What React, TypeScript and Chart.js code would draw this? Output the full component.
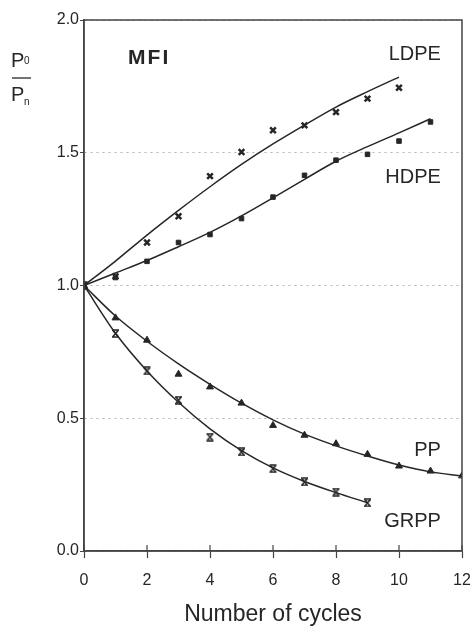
import React, { useEffect, useRef } from "react";
import { Chart, registerables } from "chart.js";

Chart.register(...registerables);

// ---- data ----
const ldpeCycles = [0, 1, 2, 3, 4, 5, 6, 7, 8, 9, 10];
const ldpeValues = [1.0, 1.035, 1.162, 1.261, 1.412, 1.503, 1.585, 1.603, 1.653, 1.704, 1.745];
const ldpeFit = [1.0, 1.092, 1.19, 1.283, 1.372, 1.456, 1.533, 1.604, 1.672, 1.73, 1.785];

const hdpeCycles = [0, 1, 2, 3, 4, 5, 6, 7, 8, 9, 10, 11];
const hdpeValues = [1.0, 1.03, 1.091, 1.162, 1.192, 1.252, 1.333, 1.415, 1.472, 1.494, 1.544, 1.616];
const hdpeFit = [1.0, 1.047, 1.094, 1.146, 1.2, 1.262, 1.33, 1.4, 1.468, 1.523, 1.575, 1.628];

const ppCycles = [0, 1, 2, 3, 4, 5, 6, 7, 8, 9, 10, 11, 12];
const ppValues = [1.0, 0.878, 0.794, 0.666, 0.618, 0.557, 0.473, 0.436, 0.404, 0.364, 0.32, 0.301, 0.283];
const ppFit = [1.0, 0.885, 0.79, 0.705, 0.628, 0.557, 0.494, 0.44, 0.396, 0.358, 0.324, 0.298, 0.283];

const grppCycles = [0, 1, 2, 3, 4, 5, 6, 7, 8, 9];
const grppValues = [1.0, 0.819, 0.678, 0.568, 0.429, 0.373, 0.31, 0.26, 0.222, 0.181];
const grppFit = [1.0, 0.82, 0.678, 0.56, 0.46, 0.378, 0.313, 0.262, 0.22, 0.182];

const xTicks = [0, 2, 4, 6, 8, 10, 12];
const yTicks = [0.0, 0.5, 1.0, 1.5, 2.0];

// labels placed in data coordinates
const seriesLabels = [
  { text: "LDPE", x: 11.33, y: 1.87 },
  { text: "HDPE", x: 11.33, y: 1.405 },
  { text: "PP", x: 11.33, y: 0.379 },
  { text: "GRPP", x: 11.33, y: 0.11 },
];
const panelLabel = { text: "MFI", x: 1.4, y: 1.855 };

const xTitle = "Number of cycles";

const INK = "#262626";
const FONT = "'Liberation Sans', Arial, sans-serif";

function pts(xs: number[], ys: number[]) {
  return xs.map((x, i) => ({ x, y: ys[i] }));
}

function hourglass(): HTMLCanvasElement {
  const c = document.createElement("canvas");
  c.width = 9;
  c.height = 9;
  const g = c.getContext("2d")!;
  g.strokeStyle = INK;
  g.lineWidth = 1.6;
  g.beginPath();
  g.moveTo(1, 1); g.lineTo(8, 1);
  g.moveTo(1, 8); g.lineTo(8, 8);
  g.moveTo(1.5, 1); g.lineTo(7.5, 8);
  g.moveTo(7.5, 1); g.lineTo(1.5, 8);
  g.stroke();
  return c;
}

const decorPlugin = {
  id: "decor",
  afterDraw(chart: any) {
    const { ctx, chartArea, scales } = chart;
    const xs = scales.x;
    const ys = scales.y;
    ctx.save();
    // frame
    ctx.strokeStyle = "#444";
    ctx.lineWidth = 1.5;
    ctx.beginPath();
    ctx.moveTo(chartArea.left, chartArea.bottom);
    ctx.lineTo(chartArea.left, chartArea.top);
    ctx.lineTo(chartArea.right, chartArea.top);
    ctx.lineTo(chartArea.right, chartArea.bottom);
    ctx.lineTo(chartArea.left, chartArea.bottom);
    ctx.stroke();
    // inner x tick marks
    ctx.lineWidth = 1.2;
    ctx.beginPath();
    for (const t of xTicks) {
      const px = xs.getPixelForValue(t);
      ctx.moveTo(px, chartArea.bottom);
      ctx.lineTo(px, chartArea.bottom - 6);
    }
    ctx.stroke();
    // series labels
    ctx.fillStyle = INK;
    ctx.textBaseline = "middle";
    ctx.font = `20px ${FONT}`;
    ctx.textAlign = "right";
    for (const l of seriesLabels) {
      ctx.fillText(l.text, xs.getPixelForValue(l.x), ys.getPixelForValue(l.y));
    }
    ctx.textAlign = "left";
    ctx.font = `bold 21px ${FONT}`;
    (ctx as any).letterSpacing = "2px";
    ctx.fillText(panelLabel.text, xs.getPixelForValue(panelLabel.x), ys.getPixelForValue(panelLabel.y));
    (ctx as any).letterSpacing = "0px";
    // y axis title P0 / Pn
    ctx.textBaseline = "alphabetic";
    ctx.font = `20px ${FONT}`;
    ctx.fillText("P", 11, 67);
    ctx.font = `10px ${FONT}`;
    ctx.fillText("0", 24, 64);
    ctx.lineWidth = 1.5;
    ctx.beginPath();
    ctx.moveTo(12, 78);
    ctx.lineTo(31, 78);
    ctx.stroke();
    ctx.font = `20px ${FONT}`;
    ctx.fillText("P", 11, 101);
    ctx.font = `10px ${FONT}`;
    ctx.fillText("n", 24, 105);
    ctx.restore();
  },
};

export default function App() {
  const ref = useRef<HTMLCanvasElement>(null);
  useEffect(() => {
    if (!ref.current) return;
    const hg = hourglass();
    const lineDs = (data: number[], xsArr: number[]) => ({
      type: "line" as const,
      data: pts(xsArr, data),
      borderColor: INK,
      borderWidth: 1.5,
      pointRadius: 0,
      cubicInterpolationMode: "monotone" as const,
      fill: false,
      order: 2,
    });
    const chart = new Chart(ref.current, {
      type: "scatter",
      data: {
        datasets: [
          lineDs(ldpeFit, ldpeCycles),
          lineDs(hdpeFit, hdpeCycles),
          lineDs(ppFit, ppCycles),
          lineDs(grppFit, grppCycles),
          {
            label: "LDPE",
            data: pts(ldpeCycles, ldpeValues),
            pointStyle: "crossRot",
            pointRadius: 4,
            borderWidth: 2.5,
            borderColor: INK,
            backgroundColor: INK,
            order: 1,
          },
          {
            label: "HDPE",
            data: pts(hdpeCycles, hdpeValues),
            pointStyle: "rect",
            pointRadius: 3.2,
            borderWidth: 1,
            borderColor: INK,
            backgroundColor: INK,
            order: 1,
          },
          {
            label: "PP",
            data: pts(ppCycles, ppValues),
            pointStyle: "triangle",
            pointRadius: 4,
            borderWidth: 1,
            borderColor: INK,
            backgroundColor: INK,
            order: 1,
          },
          {
            label: "GRPP",
            data: pts(grppCycles, grppValues),
            pointStyle: hg as any,
            pointRadius: 4,
            borderColor: INK,
            backgroundColor: INK,
            order: 1,
          },
        ] as any,
      },
      options: {
        animation: false,
        responsive: false,
        devicePixelRatio: 1,
        layout: { padding: { left: 0, right: 10, top: 20, bottom: 0 } },
        plugins: { legend: { display: false }, tooltip: { enabled: false } },
        scales: {
          x: {
            type: "linear",
            min: 0,
            max: 12,
            afterFit: (s: any) => { s.height = 75; s.paddingLeft = 0; s.paddingRight = 0; },
            afterBuildTicks: (s: any) => { s.ticks = xTicks.map((v) => ({ value: v })); },
            border: { color: "#444", width: 1.5 },
            grid: { drawOnChartArea: false, drawTicks: true, tickLength: 7, tickColor: "#444", tickWidth: 1.2 },
            ticks: {
              color: INK,
              font: { family: FONT, size: 16 },
              padding: 13,
              maxRotation: 0,
              callback: (v: any) => String(v),
            },
            title: {
              display: true,
              text: xTitle,
              color: INK,
              font: { family: FONT, size: 23, lineHeight: 1 },
              padding: { top: 0, bottom: 0 },
            },
          },
          y: {
            type: "linear",
            min: 0,
            max: 2,
            afterFit: (s: any) => { s.width = 84; s.paddingTop = 0; s.paddingBottom = 0; },
            afterBuildTicks: (s: any) => { s.ticks = yTicks.map((v) => ({ value: v })); },
            border: { color: "#444", width: 1.5, dash: [2, 4] },
            grid: {
              color: "rgba(0,0,0,0.3)",
              lineWidth: 1,
              tickLength: 4,
              tickColor: "#444",
            },
            ticks: {
              color: INK,
              font: { family: FONT, size: 16 },
              padding: 1,
              callback: (v: any) => Number(v).toFixed(1),
            },
          },
        },
      } as any,
      plugins: [decorPlugin],
    });
    return () => chart.destroy();
  }, []);
  return (
    <div style={{ position: "fixed", left: 0, top: 0, width: 472, height: 626, background: "#fff" }}>
      <canvas ref={ref} width={472} height={626} />
    </div>
  );
}
